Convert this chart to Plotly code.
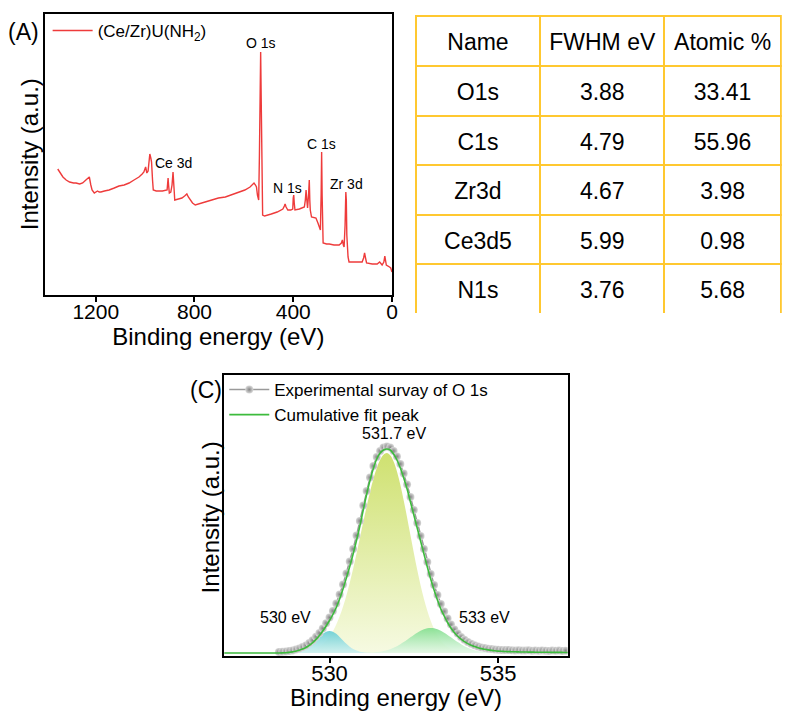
import numpy as np
import plotly.graph_objects as go

FONT = "Liberation Sans, Arial, sans-serif"

# ---------------- (A) XPS survey spectrum ----------------
SURVEY_EV = [1354, 1340, 1333, 1320, 1306, 1290, 1280, 1265, 1253, 1240, 1233, 1226, 1220, 1215,
             1206, 1200, 1193, 1186, 1179, 1165, 1146, 1125, 1106, 1085, 1065, 1045, 1025, 1012,
             1005, 998, 993, 988, 981, 977, 974, 970, 967, 955, 945, 930, 911, 909, 907, 905, 902,
             896, 891, 887, 884, 880, 865, 851, 840, 831, 825, 817, 808, 797, 780, 757, 730, 703,
             675, 650, 620, 596, 575, 562, 559, 553, 549, 545, 543, 540, 537, 535, 532, 530, 528,
             526, 524, 516, 500, 489, 465, 442, 436, 433, 429, 422, 410, 402, 400, 398, 396, 393,
             375, 355, 351, 348, 345, 342, 338, 335, 333, 331, 326, 315, 308, 300, 295, 290, 287,
             285, 283, 281, 279, 265, 254, 235, 214, 205, 201, 197, 194, 190, 187, 185, 183, 181,
             178, 174, 150, 121, 115, 111, 108, 103, 80, 60, 50, 45, 40, 33, 29, 25, 23, 10, 5, 0]
SURVEY_INT = [126, 121, 118, 115, 113, 112, 112, 111, 112, 115, 117, 118, 110, 105,
              102, 103, 104, 103, 103, 104, 105, 107, 109, 110, 112, 115, 118, 121,
              123, 128, 122, 124, 141, 137, 133, 115, 105, 104, 104, 104, 105, 112, 117, 110, 102,
              103, 110, 123, 112, 95, 96, 97, 99, 101, 98, 95, 92, 90, 91, 93, 95, 97,
              98, 100, 103, 105, 108, 112, 112, 110, 108, 100, 95, 95, 140, 202, 243, 200, 155,
              82, 80, 79, 80, 81, 83, 86, 89, 91, 88, 85, 85, 86, 97, 100, 92, 85,
              86, 88, 95, 105, 95, 87, 100, 115, 95, 85, 78, 77, 77, 72, 68, 65, 100,
              143, 100, 60, 52, 51, 51, 50, 50, 52, 55, 50, 48, 70, 103, 95, 60, 45,
              38, 33, 33, 33, 37, 42, 38, 32, 31, 31, 33, 31, 30, 33, 39, 33, 30, 28, 27, 23]
SURVEY_TICKS = [1200, 800, 400, 0]
SURVEY_PEAKS = ["O 1s", "Ce 3d", "C 1s", "N 1s", "Zr 3d"]
SURVEY_PEAK_POS = [(531, 252), (884, 132), (285, 151), (422, 107), (185, 111)]

# ---------------- (B) quantification table ----------------
TABLE_HEAD = ["Name", "FWHM eV", "Atomic %"]
TABLE_NAME = ["O1s", "C1s", "Zr3d", "Ce3d5", "N1s"]
TABLE_FWHM = [3.88, 4.79, 4.67, 5.99, 3.76]
TABLE_ATOMIC = [33.41, 55.96, 3.98, 0.98, 5.68]

# ---------------- (C) O 1s high-resolution spectrum ----------------
STEP = 0.1
EXP_START = 528.5
EXP_INT = [1.0, 1.2, 1.5, 2.0, 2.6,
           3.4, 4.5, 5.9, 7.6, 10.0, 12.8, 16.2, 20.0, 24.6, 29.8,
           35.5, 42.0, 49.5, 58.5, 68.5, 79.5, 91.5, 104.0, 117.5, 132.0,
           147.5, 162.0, 175.5, 187.0, 196.0, 202.0, 205.5, 206.5, 205.5, 202.0,
           196.5, 189.0, 179.5, 168.5, 156.0, 143.0, 130.0, 117.0, 104.0, 91.0,
           79.0, 68.0, 58.0, 49.0, 41.5, 34.5, 28.5, 23.5, 19.5, 16.0,
           13.2, 11.0, 9.2, 7.7, 6.5, 5.6, 4.9, 4.3, 3.9, 3.5,
           3.3, 3.0, 2.9, 3.1, 2.7, 2.6, 2.8, 2.5, 2.4, 2.7,
           2.3, 2.5, 2.2, 2.6, 2.3, 2.1, 2.4, 2.2, 2.5, 2.1,
           2.3]

CUM_START = 526.8
CUM_INT = [0.0] * 17 + [
    0.0, 0.1, 0.3, 0.6, 1.1,
    1.8, 2.8, 4.0, 5.5, 7.6, 10.3, 13.6, 17.5, 22.0, 27.0,
    32.5, 38.5, 45.5, 54.0, 64.0, 75.0, 86.5, 99.0, 112.5, 127.0,
    143.0, 158.5, 172.5, 184.5, 194.0, 200.0, 203.0, 204.0, 203.0, 199.0,
    193.0, 185.0, 175.0, 164.0, 151.0, 138.0, 125.0, 112.0, 99.0, 86.0,
    74.0, 63.0, 53.0, 44.0, 37.0, 30.5, 25.0, 20.5, 16.8, 13.8,
    11.4, 9.4, 7.8, 6.4, 5.3, 4.4, 3.7, 3.1, 2.6, 2.2,
    1.9, 1.7, 1.5, 1.4, 1.3, 1.2, 1.1, 1.0, 1.0, 0.9,
    0.9, 0.8, 0.8, 0.7, 0.7, 0.7, 0.6, 0.6, 0.6, 0.6,
    0.5, 0.5, 0.5]

# fitted components (centre labelled on the plot)
MAIN_START = 529.2
MAIN_INT = [0.9, 1.4, 2.1, 3.0, 4.4, 6.3, 8.8, 12.1,
            16.4, 21.8, 28.5, 36.7, 46.3, 57.5, 70.2, 84.2, 99.2, 114.9,
            130.9, 146.4, 161.1, 174.1, 185.0, 193.2, 198.3, 200.0, 197.8, 191.5,
            181.5, 168.2, 152.6, 135.5, 117.7, 100.1, 83.3, 67.8, 54.1, 42.2,
            32.2, 24.0, 17.6, 12.6, 8.8, 6.0, 4.0, 2.6, 1.7, 1.1,
            0.7, 0.4, 0.2]
LOW_START = 528.8
LOW_INT = [0.15, 0.3, 0.7, 1.3, 2.4, 4.0, 6.3, 9.3, 12.6, 16.1, 19.2, 21.3, 22.0,
           21.3, 19.2, 16.1, 12.6, 9.3, 6.3, 4.0, 2.4, 1.3, 0.7, 0.3, 0.15]
HIGH_START = 531.0
HIGH_INT = [0.1, 0.2, 0.4, 0.6, 0.9, 1.3, 2.0, 2.8, 3.8, 5.2,
            6.8, 8.7, 10.9, 13.2, 15.7, 18.1, 20.3, 22.2, 23.7, 24.7,
            25.0, 24.7, 23.7, 22.2, 20.3, 18.1, 15.7, 13.2, 10.9, 8.7,
            6.8, 5.2, 3.8, 2.8, 2.0, 1.3, 0.9, 0.6, 0.4, 0.2, 0.1]
PEAK_LABELS = ["531.7 eV", "530 eV", "533 eV"]
PEAK_LABEL_POS = [(531.9, 220), (528.69, 36), (534.59, 36)]
O1S_TICKS = [530, 535]


def grid(start, values):
    return np.round(start + STEP * np.arange(len(values)), 2)


fig = go.Figure()

fig.add_trace(go.Scatter(
    x=SURVEY_EV, y=SURVEY_INT, mode="lines", xaxis="x", yaxis="y",
    line=dict(color="#ee3b3b", width=1.4),
    name="(Ce/Zr)U(NH<sub>2</sub>)", legend="legend"))

components = [
    (MAIN_START, MAIN_INT, "rgba(246,250,226,1)", "rgba(207,225,112,1)"),
    (LOW_START, LOW_INT, "rgba(205,240,240,0.9)", "rgba(110,208,212,0.95)"),
    (HIGH_START, HIGH_INT, "rgba(226,247,230,0.85)", "rgba(135,224,146,0.95)"),
]
for start, vals, c0, c1 in components:
    fig.add_trace(go.Scatter(
        x=grid(start, vals), y=vals, mode="lines", xaxis="x2", yaxis="y2",
        line=dict(width=0, shape="spline"), fill="tozeroy",
        fillgradient=dict(type="vertical", colorscale=[[0, c0], [1, c1]]),
        showlegend=False, hoverinfo="skip"))

fig.add_trace(go.Scatter(
    x=grid(EXP_START, EXP_INT), y=EXP_INT, mode="lines+markers", xaxis="x2", yaxis="y2",
    line=dict(color="#9a9a9a", width=1.5),
    marker=dict(size=8, color="#d8d8d8", line=dict(width=0),
                gradient=dict(type="radial", color="#858585")),
    name="Experimental survay of O 1s", legend="legend2"))

fig.add_trace(go.Scatter(
    x=grid(CUM_START, CUM_INT), y=CUM_INT, mode="lines", xaxis="x2", yaxis="y2",
    line=dict(color="#3dbb3d", width=1.6, shape="spline"),
    name="Cumulative fit peak", legend="legend2"))

# Table: gold grid, with the text layer set a little lower so it sits mid-row
GOLD = "#ffc830"
NBSP = "\u00a0"
TABLE_X = [419 / 787, 1.0]
TABLE_TOP, TABLE_BOTTOM, TEXT_DROP = 16, 313.5, 9
n_rows = len(TABLE_NAME)
fig.add_trace(go.Table(
    domain=dict(x=TABLE_X, y=[(711 - TABLE_BOTTOM) / 711, (711 - TABLE_TOP) / 711]),
    columnwidth=[126, 126, 118],
    header=dict(values=[""] * len(TABLE_HEAD), height=50,
                line=dict(color=GOLD, width=2), fill=dict(color="white"),
                font=dict(size=23)),
    cells=dict(values=[[""] * n_rows] * len(TABLE_HEAD), height=49.5,
               line=dict(color=GOLD, width=2), fill=dict(color="white"),
               font=dict(size=23)),
    hoverinfo="skip"))
fig.add_trace(go.Table(
    domain=dict(x=TABLE_X, y=[(711 - TABLE_BOTTOM - TEXT_DROP) / 711,
                              (711 - TABLE_TOP - TEXT_DROP) / 711]),
    columnwidth=[126, 126, 118],
    header=dict(values=[h.replace(" ", NBSP) for h in TABLE_HEAD], height=50, align="center",
                line=dict(color="rgba(0,0,0,0)", width=0), fill=dict(color="rgba(0,0,0,0)"),
                font=dict(family=FONT, size=23, color="black")),
    cells=dict(values=[TABLE_NAME, TABLE_FWHM, TABLE_ATOMIC], format=["", ".2f", ".2f"],
               height=49.5, align="center",
               line=dict(color="rgba(0,0,0,0)", width=0), fill=dict(color="rgba(0,0,0,0)"),
               font=dict(family=FONT, size=23, color="black"))))

axis_common = dict(showline=True, mirror=True, linecolor="black", linewidth=2,
                   showgrid=False, zeroline=False)

fig.update_layout(
    width=787, height=711, margin=dict(l=0, r=0, t=0, b=0),
    paper_bgcolor="white", plot_bgcolor="white",
    font=dict(family=FONT, color="black"),
    xaxis=dict(domain=[45 / 787, 395 / 787], range=[1407, 0], anchor="y",
               tickvals=SURVEY_TICKS, ticks="outside", ticklen=5, tickwidth=1.5,
               tickcolor="black", tickfont=dict(size=21), ticklabelstandoff=-8,
               title=dict(text="Binding energy (eV)", font=dict(size=24), standoff=2),
               **axis_common),
    yaxis=dict(domain=[(711 - 295) / 711, (711 - 14) / 711], range=[0, 281], anchor="x",
               showticklabels=False, ticks="", **axis_common),
    xaxis2=dict(domain=[226 / 787, 572 / 787], range=[526.88, 537.06], anchor="y2",
                tickvals=O1S_TICKS, ticks="outside", ticklen=5, tickwidth=1.5,
                tickcolor="black", tickfont=dict(size=22), ticklabelstandoff=-8,
                title=dict(text="Binding energy (eV)", font=dict(size=24), standoff=8),
                **axis_common),
    yaxis2=dict(domain=[(711 - 656) / 711, (711 - 375) / 711], range=[-3, 278], anchor="x2",
                showticklabels=False, ticks="", **axis_common),
    legend=dict(x=48 / 787, y=(711 - 31) / 711, xanchor="left", yanchor="middle",
                bgcolor="rgba(0,0,0,0)", borderwidth=0, font=dict(size=17),
                itemwidth=40, tracegroupgap=0),
    legend2=dict(x=226 / 787, y=(711 - 372) / 711, xanchor="left", yanchor="top",
                 bgcolor="rgba(0,0,0,0)", borderwidth=0, font=dict(size=17),
                 itemwidth=40, tracegroupgap=0),
)

annotations = [
    dict(text="(A)", x=24 / 787, y=(711 - 31.7) / 711, xref="paper", yref="paper",
         showarrow=False, font=dict(size=23), xanchor="center", yanchor="middle"),
    dict(text="(C)", x=207.5 / 787, y=(711 - 390) / 711, xref="paper", yref="paper",
         showarrow=False, font=dict(size=23), xanchor="center", yanchor="middle"),
    # y-axis titles
    dict(text="Intensity (a.u.)", x=30 / 787, y=(711 - 154.5) / 711, xref="paper",
         yref="paper", showarrow=False, textangle=-90, font=dict(size=24),
         xanchor="center", yanchor="middle"),
    dict(text="Intensity (a.u.)", x=212 / 787, y=(711 - 517) / 711, xref="paper",
         yref="paper", showarrow=False, textangle=-90, font=dict(size=24),
         xanchor="center", yanchor="middle"),
]
for label, (px, py) in zip(SURVEY_PEAKS, SURVEY_PEAK_POS):
    annotations.append(dict(text=label, x=px, y=py, xref="x", yref="y", showarrow=False,
                            font=dict(size=14), xanchor="center", yanchor="middle"))
for label, (px, py) in zip(PEAK_LABELS, PEAK_LABEL_POS):
    annotations.append(dict(text=label, x=px, y=py, xref="x2", yref="y2", showarrow=False,
                            font=dict(size=16), xanchor="center", yanchor="middle"))
fig.update_layout(annotations=annotations)

fig.write_html("out.html")
